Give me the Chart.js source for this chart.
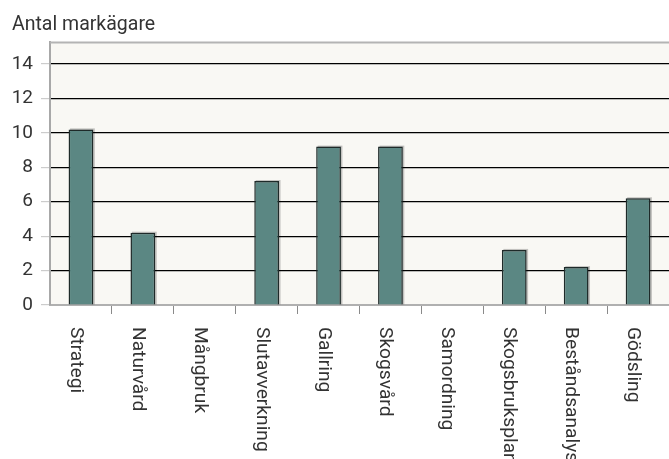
<!DOCTYPE html>
<html>
<head>
<meta charset="utf-8">
<script src="https://cdn.jsdelivr.net/npm/chart.js@4/dist/chart.umd.min.js"></script>
<style>
  html, body { margin: 0; padding: 0; background: #ffffff; }
  #wrap { width: 669px; height: 459px; position: relative; }
</style>
</head>
<body>
<div id="wrap"><canvas id="c" width="669" height="459"></canvas></div>
<script>
const yTitle = "Antal markägare";
const categories = ["Strategi", "Naturvård", "Mångbruk", "Slutavverkning", "Gallring", "Skogsvård", "Samordning", "Skogsbruksplan", "Beståndsanalys", "Gödsling"];
const values = [10.2, 4.2, 0, 7.2, 9.2, 9.2, 0, 3.2, 2.2, 6.2];
const yTicks = [0, 2, 4, 6, 8, 10, 12, 14];
const yMax = 15.25;

const FONT = "Roboto, 'Open Sans', sans-serif";
const TEXT = "#333333";

const plotBg = {
  id: 'plotBg',
  beforeDraw(chart) {
    const { ctx, chartArea: a } = chart;
    ctx.save();
    ctx.fillStyle = '#f9f8f4';
    ctx.fillRect(a.left, a.top, a.right - a.left, a.bottom - a.top);
    ctx.restore();
  },
  afterDraw(chart) {
    const { ctx, chartArea: a } = chart;
    ctx.save();
    ctx.strokeStyle = '#b4b4b4';
    ctx.lineWidth = 2;
    ctx.beginPath();
    ctx.moveTo(a.left, a.top);
    ctx.lineTo(a.right, a.top);
    ctx.stroke();
    ctx.restore();
  }
};

const barShadow = {
  id: 'barShadow',
  beforeDatasetsDraw(chart) {
    const { ctx } = chart;
    const meta = chart.getDatasetMeta(0);
    ctx.save();
    ctx.fillStyle = 'rgba(0,0,0,0.22)';
    meta.data.forEach((el, i) => {
      if (!values[i]) return;
      const p = el.getProps(['x', 'y', 'base', 'width'], true);
      ctx.fillRect(p.x - p.width / 2 + 1.5, p.y - 1, p.width, p.base - p.y + 1);
    });
    ctx.restore();
  }
};

const xLabels = {
  id: 'xLabels',
  afterDraw(chart) {
    const { ctx, chartArea: a } = chart;
    const xs = chart.scales.x;
    ctx.save();
    ctx.font = "19.2px " + FONT;
    ctx.fillStyle = TEXT;
    ctx.textAlign = 'left';
    ctx.textBaseline = 'alphabetic';
    categories.forEach((lab, i) => {
      const x = xs.getPixelForValue(i);
      ctx.save();
      ctx.translate(x - 10, a.bottom + 22);
      ctx.rotate(Math.PI / 2);
      ctx.fillText(lab, 0, 0);
      ctx.restore();
    });
    ctx.restore();
  }
};

new Chart(document.getElementById('c'), {
  type: 'bar',
  data: {
    labels: categories,
    datasets: [{
      data: values,
      backgroundColor: '#5b8783',
      borderColor: '#1e2a29',
      borderWidth: 1.5,
      borderSkipped: 'bottom',
      barPercentage: 0.8,
      categoryPercentage: 0.5
    }]
  },
  options: {
    responsive: false,
    animation: false,
    devicePixelRatio: 1,
    layout: { padding: { left: 12, right: 0, top: 0, bottom: 0 } },
    plugins: {
      legend: { display: false },
      tooltip: { enabled: false },
      title: {
        display: true,
        text: yTitle,
        align: 'start',
        color: TEXT,
        font: { family: FONT, size: 19.5, weight: 'normal', lineHeight: 1.1 },
        padding: { top: 14, bottom: 7 }
      }
    },
    scales: {
      x: {
        grid: {
          offset: true,
          drawOnChartArea: false,
          drawTicks: true,
          tickLength: 9,
          tickColor: (c) => (c.index === 0 ? 'rgba(0,0,0,0)' : '#8a8a8a'),
          tickWidth: 1
        },
        border: { display: true, color: '#b0b0b0', width: 2 },
        ticks: { display: false },
        afterFit(scale) { scale.height = 154; }
      },
      y: {
        min: 0,
        max: yMax,
        afterBuildTicks(scale) {
          scale.ticks = yTicks.map(v => ({ value: v }));
        },
        ticks: {
          color: TEXT,
          font: { family: FONT, size: 19 },
          padding: 8
        },
        grid: {
          color: (c) => (c.tick && c.tick.value === 0 ? 'rgba(0,0,0,0)' : '#000000'),
          lineWidth: 1.2,
          tickColor: '#cccccc',
          tickLength: 9
        },
        border: { display: true, color: '#a8a8a8', width: 2 },
        afterFit(scale) { scale.width = 38; }
      }
    }
  },
  plugins: [plotBg, barShadow, xLabels]
});
</script>
</body>
</html>
